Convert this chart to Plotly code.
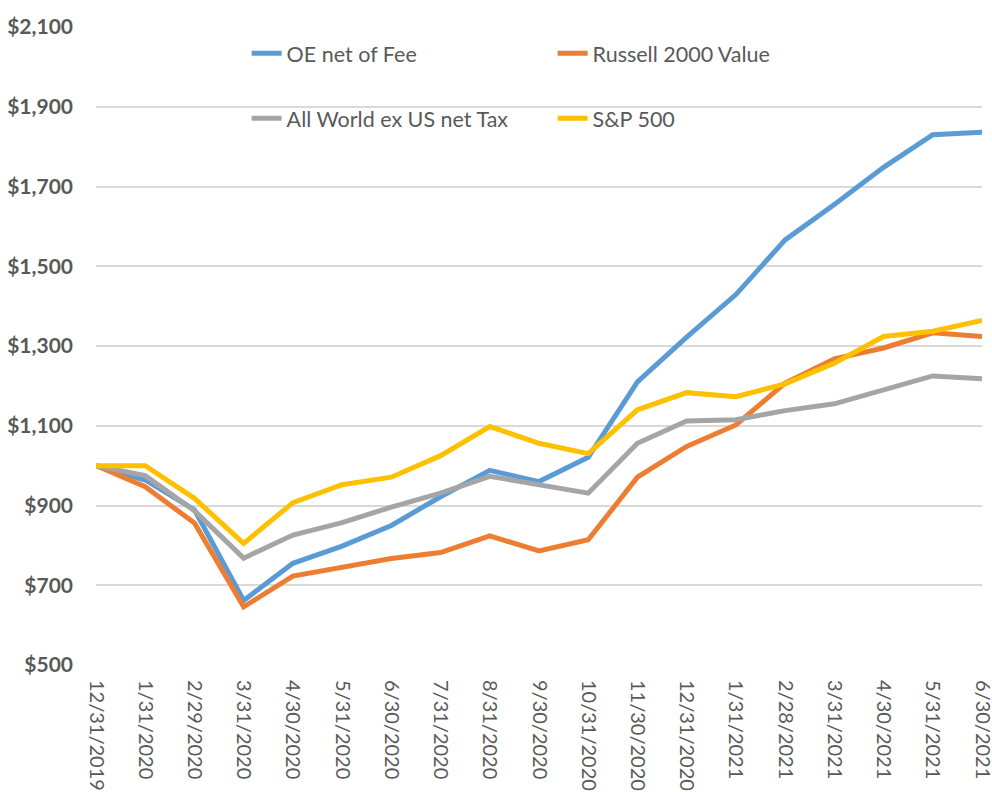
import plotly.graph_objects as go

dates = ["12/31/2019", "1/31/2020", "2/29/2020", "3/31/2020", "4/30/2020", "5/31/2020",
         "6/30/2020", "7/31/2020", "8/31/2020", "9/30/2020", "10/31/2020", "11/30/2020",
         "12/31/2020", "1/31/2021", "2/28/2021", "3/31/2021", "4/30/2021", "5/31/2021",
         "6/30/2021"]

oe_net_of_fee = [1000, 964, 889, 662, 755, 798, 850, 922, 988, 960, 1021, 1210,
                 1322, 1429, 1566, 1655, 1748, 1830, 1836]
russell_2000_value = [1000, 947, 856, 646, 723, 744, 767, 782, 824, 786, 814, 971,
                      1048, 1102, 1207, 1268, 1295, 1333, 1324]
all_world_ex_us = [1000, 975, 887, 768, 826, 857, 896, 931, 973, 952, 931, 1056,
                   1112, 1115, 1138, 1155, 1190, 1225, 1218]
sp_500 = [1000, 1000, 918, 805, 907, 952, 971, 1025, 1098, 1056, 1030, 1140,
          1183, 1173, 1205, 1257, 1324, 1337, 1364]

series = [
    ("OE net of Fee", oe_net_of_fee, "#5B9BD5", "legend"),
    ("Russell 2000 Value", russell_2000_value, "#ED7D31", "legend"),
    ("All World ex US net Tax", all_world_ex_us, "#A5A5A5", "legend2"),
    ("S&P 500", sp_500, "#FFC000", "legend2"),
]

fig = go.Figure()
for name, vals, color, leg in series:
    fig.add_trace(go.Scatter(x=dates, y=vals, name=name, mode="lines",
                             line=dict(color=color, width=5), legend=leg))

font_family = "Lato, 'Open Sans', sans-serif"
legend_common = dict(orientation="h", xanchor="left", yanchor="middle",
                     entrywidth=261, entrywidthmode="pixels",
                     font=dict(family=font_family, size=21.5, color="#595959"),
                     bgcolor="rgba(0,0,0,0)", borderwidth=0)

fig.update_layout(
    width=992, height=792,
    margin=dict(l=96, r=10, t=27, b=127),
    paper_bgcolor="white", plot_bgcolor="white",
    showlegend=True,
    legend=dict(x=0.170, y=0.959, **legend_common),
    legend2=dict(x=0.170, y=0.857, **legend_common),
    xaxis=dict(type="category", range=[0, 18], tickangle=90,
               tickfont=dict(family=font_family, size=20, color="#595959"),
               ticklabelstandoff=14,
               showgrid=False, showline=False, zeroline=False, ticks="",
               automargin=False, fixedrange=True),
    yaxis=dict(range=[500, 2100], dtick=200, tick0=500, tickprefix="$",
               tickformat=",d",
               tickfont=dict(family=font_family, size=21, color="#595959", weight="bold"),
               ticklabelstandoff=22,
               showgrid=True, gridcolor="#D9D9D9", gridwidth=1.5,
               zeroline=False, showline=False, ticks="", automargin=False,
               fixedrange=True),
)

# Remove the default page margin so the figure sits at the window's top-left corner.
fig.write_html("out.html",
               config={"displayModeBar": False},
               post_script="document.body.style.margin='0';"
                           "document.body.style.overflow='hidden';")
